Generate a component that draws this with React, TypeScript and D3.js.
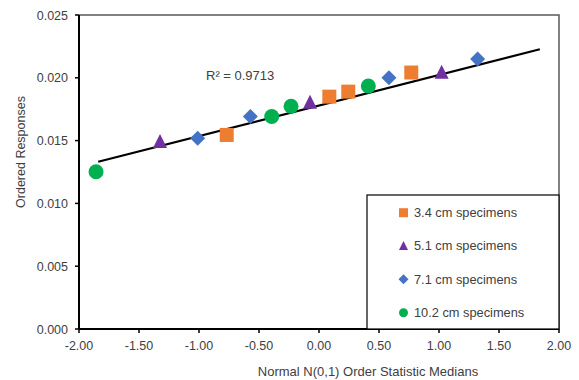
import React from "react";
import * as d3 from "d3";

const W = 579;
const H = 380;

const xTicks = [-2, -1.5, -1, -0.5, 0, 0.5, 1, 1.5, 2];
const yTicks = [0, 0.005, 0.01, 0.015, 0.02, 0.025];

const s34x = [-0.769, 0.086, 0.244, 0.769];
const s34y = [0.01545, 0.0185, 0.0189, 0.02042];
const s51x = [-1.325, -0.075, 1.022];
const s51y = [0.01497, 0.0181, 0.02049];
const s71x = [-1.011, -0.572, 0.583, 1.322];
const s71y = [0.01518, 0.01692, 0.02, 0.0215];
const s102x = [-1.858, -0.394, -0.233, 0.411];
const s102y = [0.01252, 0.01692, 0.01773, 0.01935];

const trendX = [-1.84, 1.84];
const trendY = [0.01332, 0.02227];

const seriesNames = ["3.4 cm specimens", "5.1 cm specimens", "7.1 cm specimens", "10.2 cm specimens"];
const seriesColors = ["#ED7D31", "#7030A0", "#4472C4", "#00B050"];
const seriesShapes = ["square", "triangle", "diamond", "circle"];

const r2Label = "R² = 0.9713";
const xTitle = "Normal N(0,1) Order Statistic Medians";
const yTitle = "Ordered Responses";

const plot = { left: 79, right: 559, top: 15, bottom: 329 };

function markerPath(shape: string, s: number): string {
  const h = s / 2;
  if (shape === "square") return `M${-h},${-h}H${h}V${h}H${-h}Z`;
  if (shape === "triangle") return `M0,${-h}L${h},${h}L${-h},${h}Z`;
  if (shape === "diamond") return `M0,${-h}L${h},0L0,${h}L${-h},0Z`;
  return d3.symbol(d3.symbolCircle, Math.PI * h * h)() as string;
}

const markerSize: Record<string, number> = { square: 14, triangle: 14, diamond: 15, circle: 15 };
const legendSize: Record<string, number> = { square: 9, triangle: 9, diamond: 10, circle: 9 };

export default function App() {
  const x = d3.scaleLinear().domain([-2, 2]).range([plot.left, plot.right]);
  const y = d3.scaleLinear().domain([0, 0.025]).range([plot.bottom, plot.top]);
  const series = [
    { xs: s34x, ys: s34y },
    { xs: s51x, ys: s51y },
    { xs: s71x, ys: s71y },
    { xs: s102x, ys: s102y },
  ];
  const line = d3
    .line<number>()
    .x((d) => x(d))
    .y((_, i) => y(trendY[i]));
  const font = "'Liberation Sans', Arial, sans-serif";
  const textColor = "#404040";
  const legend = { x0: 367, y0: 195, x1: 559, y1: 329 };
  const legendRows = [212.7, 245.5, 279.3, 312.7];

  return (
    <svg
      width={W}
      height={H}
      style={{ position: "absolute", left: 0, top: 0, background: "#fff" }}
      fontFamily={font}
    >
      <rect x={0} y={0} width={W} height={H} fill="#fff" />
      <path
        d={`M${plot.left},${plot.top}H${plot.right}V${plot.bottom}`}
        fill="none"
        stroke="#595959"
        strokeWidth={1.5}
      />
      <line x1={plot.left} x2={plot.left} y1={plot.top} y2={plot.bottom} stroke="#000" strokeWidth={2} />
      <line x1={plot.left} x2={plot.right} y1={plot.bottom} y2={plot.bottom} stroke="#000" strokeWidth={2} />
      {yTicks.map((t) => (
        <g key={"y" + t}>
          <line x1={plot.left - 4} x2={plot.left} y1={y(t)} y2={y(t)} stroke="#000" strokeWidth={1.5} />
          <text x={68} y={y(t) + 4.5} textAnchor="end" fontSize={12.5} fill={textColor}>
            {t.toFixed(3)}
          </text>
        </g>
      ))}
      {xTicks.map((t) => (
        <g key={"x" + t}>
          <line x1={x(t)} x2={x(t)} y1={plot.bottom} y2={plot.bottom + 4} stroke="#000" strokeWidth={1.5} />
          <text x={x(t)} y={349.5} textAnchor="middle" fontSize={12.5} fill={textColor}>
            {t.toFixed(2)}
          </text>
        </g>
      ))}
      <text x={368} y={376} textAnchor="middle" fontSize={13} fill={textColor}>
        {xTitle}
      </text>
      <text
        transform={`translate(25,152) rotate(-90)`}
        textAnchor="middle"
        fontSize={12.5}
        fill={textColor}
      >
        {yTitle}
      </text>
      <path d={line(trendX) as string} fill="none" stroke="#000" strokeWidth={2.2} />
      <text x={206} y={79.5} fontSize={13} fill={textColor}>
        {r2Label}
      </text>
      {series.map((s, si) =>
        s.xs.map((xv, i) => (
          <path
            key={si + "-" + i}
            d={markerPath(seriesShapes[si], markerSize[seriesShapes[si]])}
            transform={`translate(${x(xv)},${y(s.ys[i])})`}
            fill={seriesColors[si]}
          />
        ))
      )}
      <rect
        x={legend.x0}
        y={legend.y0}
        width={legend.x1 - legend.x0}
        height={legend.y1 - legend.y0}
        fill="#fff"
        stroke="#000"
        strokeWidth={1.2}
      />
      {seriesNames.map((n, i) => (
        <g key={n}>
          <path
            d={markerPath(seriesShapes[i], legendSize[seriesShapes[i]])}
            transform={`translate(403.5,${legendRows[i]})`}
            fill={seriesColors[i]}
          />
          <text x={414} y={legendRows[i] + 4.5} fontSize={12.8} fill={textColor}>
            {n}
          </text>
        </g>
      ))}
    </svg>
  );
}
